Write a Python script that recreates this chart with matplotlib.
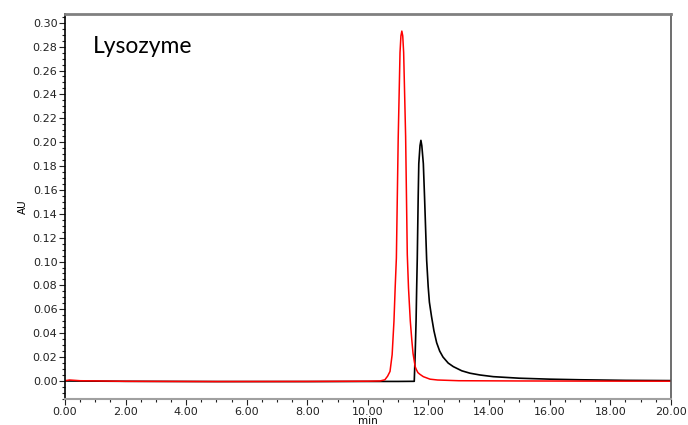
import numpy as np
import matplotlib.pyplot as plt
from matplotlib.ticker import MultipleLocator, FormatStrFormatter

# 讀圖估計的層析數據 (時間 min, 吸光度 AU)
red_t = [0.0, 0.15, 0.5, 2.0, 5.0, 8.0, 10.0, 10.4, 10.56, 10.65, 10.73, 10.80,
         10.86, 10.90, 10.94, 11.00, 11.06, 11.09, 11.12, 11.15, 11.18, 11.245,
         11.30, 11.34, 11.40, 11.45, 11.49, 11.56, 11.60, 11.65, 11.72, 11.83,
         12.05, 12.3, 13.0, 15.0, 17.0, 20.0]
red_au = [0.0002, 0.0008, 0.0002, -0.0003, -0.0005, -0.0004, -0.0002, 0.0, 0.001,
          0.004, 0.008, 0.022, 0.050, 0.078, 0.103, 0.203, 0.275, 0.289, 0.293,
          0.289, 0.275, 0.205, 0.106, 0.078, 0.050, 0.034, 0.023, 0.012, 0.0095,
          0.007, 0.0055, 0.0036, 0.0015, 0.0008, 0.0002, 0.0, -0.0001, -0.0002]

black_t = [0.0, 2.0, 5.0, 8.0, 10.0, 11.0, 11.53, 11.56, 11.59, 11.61, 11.63,
           11.66, 11.68, 11.72, 11.75, 11.78, 11.83, 11.87, 11.94, 11.99, 12.03,
           12.10, 12.18, 12.27, 12.37, 12.48, 12.65, 12.82, 13.1, 13.37, 13.7,
           14.14, 15.0, 16.0, 17.0, 18.5, 20.0]
black_au = [0.0, -0.0003, -0.0005, -0.0005, -0.0004, -0.0004, -0.0003, 0.022,
            0.050, 0.078, 0.103, 0.154, 0.182, 0.197, 0.2015, 0.197, 0.182,
            0.154, 0.101, 0.079, 0.066, 0.054, 0.042, 0.032, 0.025, 0.020,
            0.015, 0.012, 0.0085, 0.0065, 0.005, 0.0036, 0.0023, 0.0015, 0.001,
            0.0005, 0.0003]

fig = plt.figure(figsize=(6.88, 4.25), dpi=100)
ax = fig.add_axes([0.0945, 0.0612, 0.8805, 0.9058])

ax.plot(black_t, black_au, color='black', linewidth=1.2)
ax.plot(red_t, red_au, color='red', linewidth=1.1)

ax.set_xlim(0, 20)
ax.set_ylim(-0.0151, 0.3073)

ax.xaxis.set_major_locator(MultipleLocator(2))
ax.xaxis.set_minor_locator(MultipleLocator(0.5))
ax.yaxis.set_major_locator(MultipleLocator(0.02))
ax.yaxis.set_minor_locator(MultipleLocator(0.005))
ax.xaxis.set_major_formatter(FormatStrFormatter('%.2f'))
ax.yaxis.set_major_formatter(FormatStrFormatter('%.2f'))

ax.tick_params(which='major', direction='out', length=4, width=0.8,
               labelsize=8, pad=1.5, colors='#222222')
ax.tick_params(which='minor', direction='out', length=2, width=0.8,
               colors='#222222')

ax.spines['top'].set_color('#808080')
ax.spines['top'].set_linewidth(2)
ax.spines['right'].set_color('#555555')
ax.spines['right'].set_linewidth(1.2)
ax.spines['bottom'].set_color('#a0a0a0')
ax.spines['bottom'].set_linewidth(1.5)
ax.spines['left'].set_color('black')
ax.spines['left'].set_linewidth(1.2)

ax.set_ylabel('AU', fontsize=7.5, labelpad=3)
ax.set_xlabel('min', fontsize=7.5, labelpad=-0.5)

ax.text(0.92, 0.275, 'Lysozyme', fontsize=16.5, family=['Lato', 'DejaVu Sans'],
        color='black')

plt.savefig('out.png', dpi=100)
